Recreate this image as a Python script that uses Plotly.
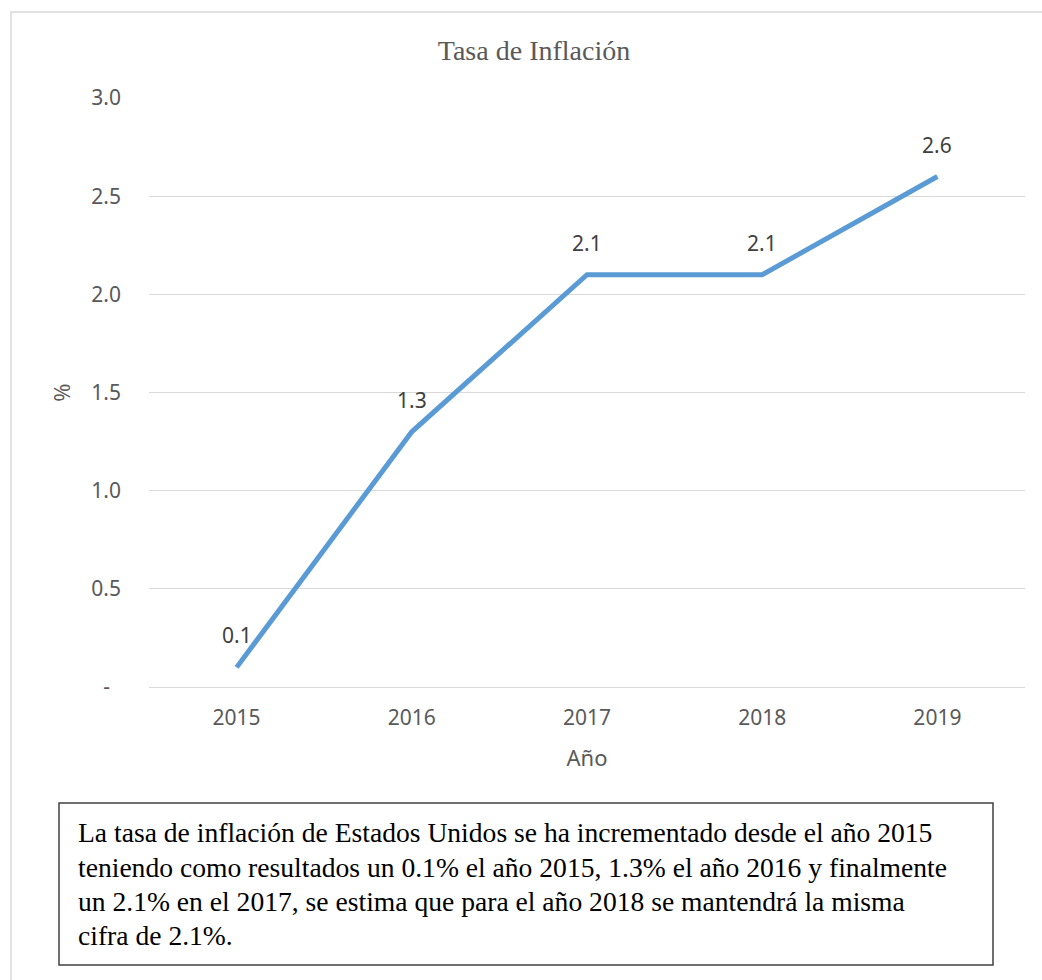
import plotly.graph_objects as go

# Inflation rate by year (%)
years = ["2015", "2016", "2017", "2018", "2019"]
inflation = [0.1, 1.3, 2.1, 2.1, 2.6]

y_tickvals = [0, 0.5, 1.0, 1.5, 2.0, 2.5, 3.0]
y_ticktext = ["-\u00a0\u00a0", "0.5", "1.0", "1.5", "2.0", "2.5", "3.0"]

note_lines = [
    "La tasa de inflación de Estados Unidos se ha incrementado desde el año 2015",
    "teniendo como resultados un 0.1% el año 2015, 1.3% el año 2016 y finalmente",
    "un 2.1% en el 2017, se estima que para el año 2018 se mantendrá la misma",
    "cifra de 2.1%.",
]

W, H = 1042, 980
L, R, T, B = 149, 17, 98, 293
PW, PH = W - L - R, H - T - B


def px_x(x):
    return (x - L) / PW


def px_y(y):
    return (H - B - y) / PH


SANS = "Noto Sans"
SERIF = "Liberation Serif, Times New Roman, serif"

fig = go.Figure()
fig.add_trace(go.Scatter(
    x=years, y=inflation, mode="lines",
    line=dict(color="#5B9BD5", width=5),
    hoverinfo="x+y", showlegend=False,
))

annotations = []
# value labels above each point (category index on the x axis)
for i, v in enumerate(inflation):
    annotations.append(dict(
        x=i, y=v, xref="x", yref="y", text=f"{v:.1f}", showarrow=False,
        yshift=32, font=dict(family=SANS, size=21, color="#404040"),
    ))

# explanatory note under the chart
for i, line in enumerate(note_lines):
    annotations.append(dict(
        x=px_x(76), y=px_y(833 + 34 * i), xref="paper", yref="paper",
        xanchor="left", yanchor="middle", text=line, showarrow=False,
        font=dict(family=SERIF, size=27.6, color="#000000"),
    ))

shapes = [
    # outer chart frame
    dict(type="rect", xref="paper", yref="paper",
         x0=px_x(11), x1=px_x(1060), y0=px_y(12), y1=px_y(1000),
         line=dict(color="#D9D9D9", width=1.5), layer="below"),
    # note box
    dict(type="rect", xref="paper", yref="paper",
         x0=px_x(59), x1=px_x(993), y0=px_y(803), y1=px_y(965),
         line=dict(color="#404040", width=1.5)),
]

fig.update_layout(
    width=W, height=H,
    margin=dict(l=L, r=R, t=T, b=B),
    paper_bgcolor="white", plot_bgcolor="white",
    title=dict(text="Tasa de Inflación", x=px_x(534), xref="paper",
               xanchor="center",
               y=1 - 50 / H, yref="container", yanchor="middle",
               font=dict(family=SERIF, size=28, color="#595959")),
    xaxis=dict(
        type="category", range=[-0.5, 4.5], showgrid=False,
        showline=False, zeroline=False, ticks="",
        ticklabelstandoff=16,
        tickfont=dict(family=SANS, size=21, color="#595959"),
        title=dict(text="Año", standoff=20,
                   font=dict(family=SANS, size=22, color="#595959")),
    ),
    yaxis=dict(
        range=[0, 3], tickvals=y_tickvals, ticktext=y_ticktext,
        showgrid=True, gridcolor="#D9D9D9", gridwidth=1.3,
        zeroline=True, zerolinecolor="#D9D9D9", zerolinewidth=1.3,
        showline=False, ticks="", ticklabelstandoff=27,
        tickfont=dict(family=SANS, size=21, color="#595959"),
        title=dict(text="%", standoff=14,
                   font=dict(family=SANS, size=22, color="#595959")),
    ),
    annotations=annotations,
    shapes=shapes,
)

fig.write_html("out.html")
